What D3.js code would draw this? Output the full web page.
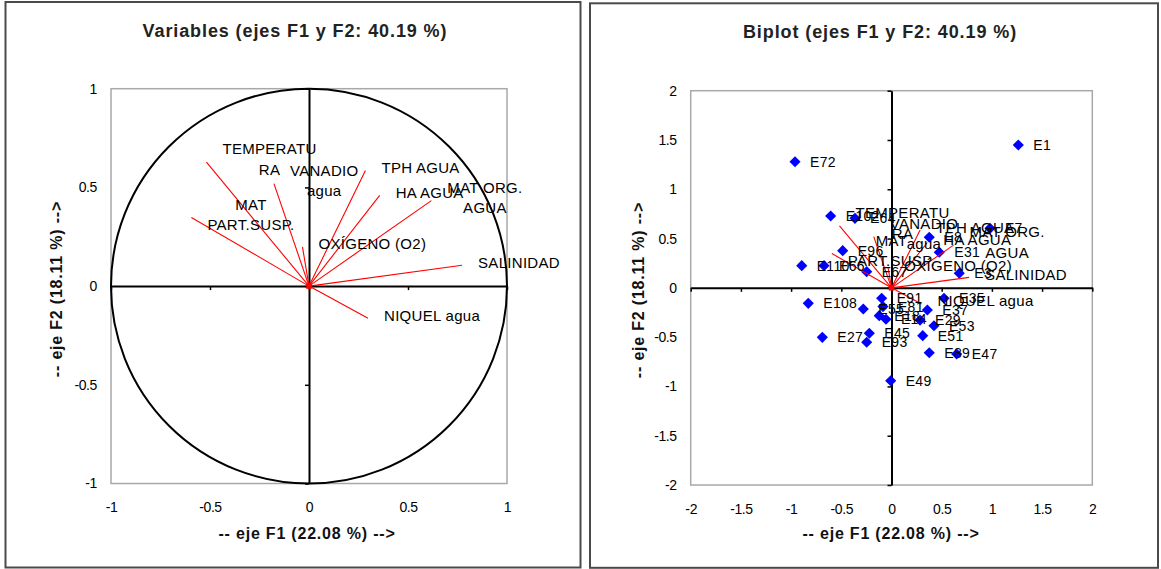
<!DOCTYPE html>
<html><head><meta charset="utf-8">
<script src="https://cdn.jsdelivr.net/npm/d3@7"></script>
<style>
html,body{margin:0;padding:0;background:#fff;}
svg{display:block;font-family:Arial,"Liberation Sans",sans-serif;}
</style></head>
<body><svg id="c" width="1161" height="569"></svg>
<script>
// ---- data ----
const varLabels = ["TEMPERATU\nRA", "VANADIO\nagua", "MAT\nPART.SUSP.", "OXÍGENO (O2)", "TPH AGUA", "HA AGUA", "MAT ORG.\nAGUA", "SALINIDAD", "NIQUEL agua"];
const varF1 = [-0.518, -0.177, -0.594, -0.033, 0.285, 0.357, 0.618, 0.773, 0.298];
const varF2 = [0.628, 0.519, 0.348, 0.199, 0.586, 0.460, 0.433, 0.106, -0.163];

const obsNames = ["E1","E72","E102","E64","E96","E110","E66","E67","E8","E31","E3","E7","E108","E55","E91","E81","E18","E14","E35","E37","E29","E53","E45","E93","E27","E51","E89","E47","E49"];
const obsF1 = [1.263,-0.961,-0.606,-0.364,-0.486,-0.894,-0.672,-0.247,0.376,0.476,0.675,0.981,-0.829,-0.281,-0.098,-0.085,-0.122,-0.055,0.523,0.357,0.284,0.423,-0.221,-0.247,-0.689,0.311,0.376,0.649,-0.008];
const obsF2 = [1.449,1.279,0.729,0.705,0.377,0.225,0.225,0.164,0.513,0.361,0.148,0.604,-0.157,-0.215,-0.106,-0.19,-0.282,-0.319,-0.106,-0.225,-0.327,-0.384,-0.461,-0.552,-0.502,-0.485,-0.658,-0.671,-0.942];

const ticksLeft = [-1, -0.5, 0, 0.5, 1];
const ticksRight = [-2, -1.5, -1, -0.5, 0, 0.5, 1, 1.5, 2];
const titleLeft = "Variables (ejes F1 y F2: 40.19 %)";
const titleRight = "Biplot (ejes F1 y F2: 40.19 %)";
const xTitle = "-- eje F1 (22.08 %) -->";
const yTitle = "-- eje F2 (18.11 %) -->";

// ---- drawing ----
const svg = d3.select("#c");
svg.append("rect").attr("width",1161).attr("height",569).attr("fill","#fff");

// panel frames
svg.append("rect").attr("x",5.5).attr("y",2).attr("width",575).attr("height",565.5)
  .attr("fill","none").attr("stroke","#4a4a4a").attr("stroke-width",2);
svg.append("rect").attr("x",590).attr("y",3.3).attr("width",568).attr("height",564.5)
  .attr("fill","none").attr("stroke","#4a4a4a").attr("stroke-width",2);

const fmt = d => d === 0 ? "0" : String(d);

function frame(x, y, ticks, cfg) {
  const g = svg.append("g");
  const [x0, x1] = x.range(), [y0, y1] = y.range();
  g.append("rect").attr("x", x0).attr("y", y1).attr("width", x1 - x0).attr("height", y0 - y1)
    .attr("fill","none").attr("stroke","#a8a8a8").attr("stroke-width",1.5);
  const la = g.append("g").attr("transform",`translate(${x0},0)`)
    .call(d3.axisLeft(y).tickValues(ticks).tickFormat(fmt).tickSize(0).tickPadding(14));
  const ba = g.append("g").attr("transform",`translate(0,${y0})`)
    .call(d3.axisBottom(x).tickValues(ticks).tickFormat(fmt).tickSize(0).tickPadding(cfg.bpad));
  [la, ba].forEach(a => {
    a.select(".domain").remove();
    a.selectAll("text").attr("font-size",14).attr("fill","#000")
      .attr("font-family","Arial, 'Liberation Sans', sans-serif").attr("letter-spacing","-0.4px");
  });
  const va = g.append("g").attr("transform",`translate(${x(0)},0)`)
    .call(d3.axisLeft(y).tickValues(ticks).tickFormat("").tickSize(4).tickSizeOuter(0));
  const ha = g.append("g").attr("transform",`translate(0,${y(0)})`)
    .call(d3.axisBottom(x).tickValues(ticks).tickFormat("").tickSize(4).tickSizeOuter(0));
  [va, ha].forEach(a => {
    a.select(".domain").attr("stroke","#000").attr("stroke-width",2);
    a.selectAll(".tick line").attr("stroke","#000").attr("stroke-width",1.5);
  });
  svg.append("text").attr("x", cfg.tx).attr("y", cfg.ty).attr("text-anchor","middle")
    .attr("font-size",18).attr("font-weight","bold").attr("letter-spacing","0.9px").attr("fill","#222")
    .text(cfg.title);
  svg.append("text").attr("x", cfg.axx).attr("y", 539).attr("text-anchor","middle")
    .attr("font-size",16).attr("font-weight","bold").attr("letter-spacing","0.8px").attr("fill","#111")
    .text(xTitle);
  svg.append("text").attr("transform",`translate(${cfg.ayx},${cfg.ayy}) rotate(-90)`).attr("text-anchor","middle")
    .attr("font-size",16).attr("font-weight","bold").attr("letter-spacing","0.8px").attr("fill","#111")
    .text(yTitle);
  return g;
}

function vectors(g, x, y) {
  g.append("g").selectAll("line").data(varF1).join("line")
    .attr("x1", x(0)).attr("y1", y(0))
    .attr("x2", (d,i) => x(varF1[i])).attr("y2", (d,i) => y(varF2[i]))
    .attr("stroke","#ff0000").attr("stroke-width",1.1);
  g.append("path").attr("d", d3.symbol(d3.symbolSquare, 30)())
    .attr("transform",`translate(${x(0)},${y(0)})`).attr("fill","#ff0000");
}

function varLabelsDraw(g, x, y) {
  const lh = 20.5;
  varLabels.forEach((lab, i) => {
    const lines = lab.split("\n");
    const px = x(varF1[i]), py = y(varF2[i]);
    const t = g.append("text").attr("font-size",15).attr("letter-spacing","0.3px").attr("fill","#000")
      .attr("text-anchor","middle");
    const spans = lines.map((s, k) => t.append("tspan").text(s)
      .attr("y", py + 2.5 - (lines.length - 1) * lh / 2 + k * lh));
    let maxW = 0;
    spans.forEach(sp => { maxW = Math.max(maxW, sp.node().getComputedTextLength()); });
    spans.forEach(sp => sp.attr("x", px + 16 + maxW / 2));
  });
}

// Left: correlation circle
const xL = d3.scaleLinear([-1, 1], [111, 507]);
const yL = d3.scaleLinear([-1, 1], [483.5, 88.7]);
const gL = frame(xL, yL, ticksLeft, {bpad: 18.5, tx: 295, ty: 37, title: titleLeft, axx: 307, ayx: 61.5, ayy: 289});
gL.append("ellipse").attr("cx", xL(0)).attr("cy", yL(0))
  .attr("rx", xL(1) - xL(0)).attr("ry", yL(0) - yL(1))
  .attr("fill","none").attr("stroke","#000").attr("stroke-width",2);
vectors(gL, xL, yL);
varLabelsDraw(gL, xL, yL);

// Right: biplot
const xR = d3.scaleLinear([-2, 2], [690.7, 1092.3]);
const yR = d3.scaleLinear([-2, 2], [485, 90.7]);
const gR = frame(xR, yR, ticksRight, {bpad: 19, tx: 880, ty: 38, title: titleRight, axx: 891, ayx: 644, ayy: 290});
gR.append("g").selectAll("path").data(obsNames).join("path")
  .attr("d", d3.symbol(d3.symbolSquare, 62)())
  .attr("transform", (d,i) => `translate(${xR(obsF1[i])},${yR(obsF2[i])}) rotate(45)`)
  .attr("fill","#0000ff");
vectors(gR, xR, yR);
gR.append("g").selectAll("text").data(obsNames).join("text")
  .attr("x", (d,i) => xR(obsF1[i]) + 15).attr("y", (d,i) => yR(obsF2[i]) + 5)
  .attr("font-size",14).attr("letter-spacing","0.3px").attr("fill","#000").text(d => d);
varLabelsDraw(gR, xR, yR);
</script></body></html>
